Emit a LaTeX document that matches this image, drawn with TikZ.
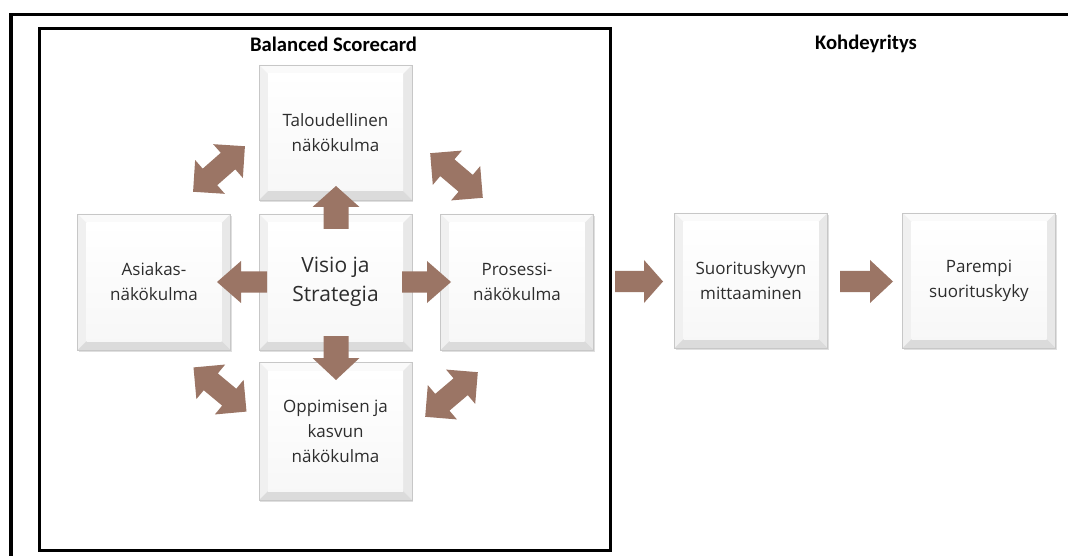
\documentclass[tikz,border=0pt]{standalone}
\usepackage{fontspec}
\setmainfont{Open Sans}
\newfontfamily\titlefont{Carlito}
\usetikzlibrary{calc,shadows}
\definecolor{arrowbrown}{RGB}{155,117,101}
\definecolor{boxtext}{RGB}{45,45,45}

\tikzset{
  frame/.style={line width=2.6pt, black},
  heading/.style={font=\titlefont\bfseries\fontsize{15.5}{18}\selectfont, text=black},
  bigtext/.style={font=\fontsize{15.75}{21.75}\selectfont},
  blockarrow/.style={fill=arrowbrown},
  bevelbox/.style={rectangle, draw=black!22, line width=0.4pt, fill=white,
    minimum width=114.75pt, minimum height=102pt, inner sep=0pt, align=center,
    text=boxtext, font=\fontsize{12.75}{18.75}\selectfont,
    drop shadow={shadow xshift=0.9pt, shadow yshift=-1.2pt, opacity=0.25, fill=black!50},
    path picture={
      \coordinate (bSW) at (path picture bounding box.south west);
      \coordinate (bNE) at (path picture bounding box.north east);
      \coordinate (bNW) at (bSW|-bNE);
      \coordinate (bSE) at (bNE|-bSW);
      \coordinate (iSW) at ([shift={(6.75pt,6.75pt)}]bSW);
      \coordinate (iNE) at ([shift={(-6.75pt,-6.75pt)}]bNE);
      \coordinate (iNW) at ([shift={(6.75pt,-6.75pt)}]bNW);
      \coordinate (iSE) at ([shift={(-6.75pt,6.75pt)}]bSE);
      \fill[black!2]  (bNW) -- (bNE) -- (iNE) -- (iNW) -- cycle;
      \fill[black!6]  (bNW) -- (iNW) -- (iSW) -- (bSW) -- cycle;
      \fill[black!9]  (bNE) -- (bSE) -- (iSE) -- (iNE) -- cycle;
      \fill[black!14] (bSW) -- (iSW) -- (iSE) -- (bSE) -- cycle;
      \shade[top color=white, bottom color=black!3] (iSW) rectangle (iNE);
    }},
}

% double-headed diagonal block arrow: centre x, centre y, angle
\newcommand\dblarrow[3]{%
  \begin{scope}[shift={(#1,#2)}, rotate=#3]
    \fill[blockarrow] (-34.5,0) -- (-12,22.5) -- (-12,11) -- (12,11) -- (12,22.5)
      -- (34.5,0) -- (12,-22.5) -- (12,-11) -- (-12,-11) -- (-12,-22.5) -- cycle;
  \end{scope}}

\begin{document}
\begin{tikzpicture}[x=0.75pt, y=-0.75pt]
  \useasboundingbox (0,0) rectangle (1068,556);

  % frames
  \draw[frame] (11,560) -- (11,14.3) -- (1070,14.3);
  \draw[frame] (39.5,28.7) rectangle (610.3,550.7);

  % headings
  \node[heading] (bsc) at (333.5,44) {Balanced Scorecard};
  \node[heading] (kohde) at (866,44) {Kohdeyritys};

  % boxes
  \node[bevelbox, minimum height=101.25pt] (tal) at (335.5,132.5) {Taloudellinen\\näkökulma};
  \node[bevelbox, bigtext] (vis) at (335.5,282) {Visio ja\\Strategia};
  \node[bevelbox] (asi) at (154,282) {Asiakas-\\näkökulma};
  \node[bevelbox] (pro) at (517,282) {Prosessi-\\näkökulma};
  \node[bevelbox, minimum height=103.5pt] (opp) at (335.5,431) {Oppimisen ja\\kasvun\\näkökulma};
  \node[bevelbox, minimum height=101.25pt] (suo) at (751,280.5) {Suorituskyvyn\\mittaaminen};
  \node[bevelbox, minimum height=101.25pt] (par) at (979,280.5) {Parempi\\suorituskyky};

  % straight block arrows out of the centre
  \fill[blockarrow] (336,186) -- (359.5,207) -- (348.5,207) -- (348.5,229)
    -- (323.5,229) -- (323.5,207) -- (312.5,207) -- cycle;
  \fill[blockarrow] (336,380) -- (359.5,358) -- (348.5,358) -- (348.5,336)
    -- (323.5,336) -- (323.5,358) -- (312.5,358) -- cycle;
  \fill[blockarrow] (217,282) -- (241,261) -- (241,271.5) -- (267,271.5)
    -- (267,292.5) -- (241,292.5) -- (241,303) -- cycle;
  \fill[blockarrow] (451,282) -- (427,261) -- (427,271.5) -- (402,271.5)
    -- (402,292.5) -- (427,292.5) -- (427,303) -- cycle;

  % arrows along the chain
  \fill[blockarrow] (663,281.5) -- (644,260) -- (644,271) -- (615,271)
    -- (615,292) -- (644,292) -- (644,303) -- cycle;
  \fill[blockarrow] (893,281.5) -- (870,260) -- (870,271) -- (840,271)
    -- (840,292) -- (870,292) -- (870,303) -- cycle;

  % diagonal double arrows between the perspectives
  \dblarrow{219}{169}{41.3}
  \dblarrow{456.5}{175.5}{-40.3}
  \dblarrow{220}{389.5}{-39.8}
  \dblarrow{451.5}{394.5}{40.3}
\end{tikzpicture}
\end{document}
